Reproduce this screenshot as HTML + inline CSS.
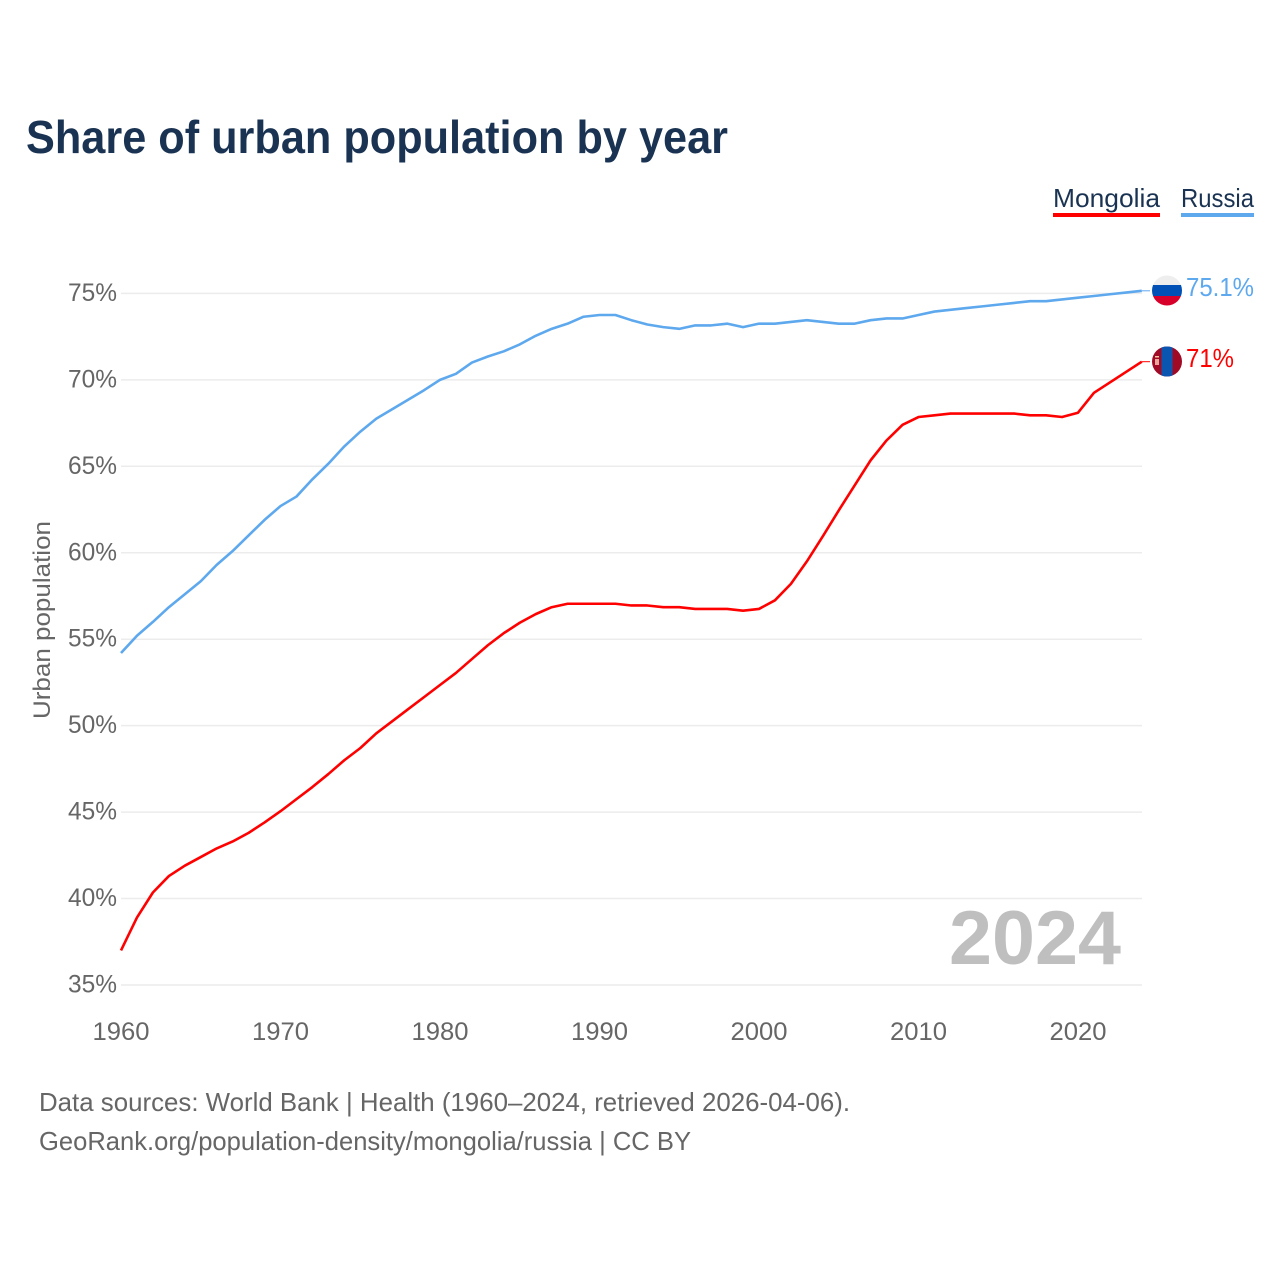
<!DOCTYPE html>
<html lang="en">
<head>
<meta charset="utf-8">
<title>Share of urban population by year</title>
<style>
html,body{margin:0;padding:0;background:#fff}
svg{display:block}
text{font-family:"Liberation Sans",sans-serif}
</style>
</head>
<body>
<svg id="chart" xmlns="http://www.w3.org/2000/svg" width="1280" height="1280" viewBox="0 0 1280 1280">
<rect width="1280" height="1280" fill="#fff"/>
<text x="26" y="153" font-size="46" font-weight="700" fill="#1a3352" textLength="702" lengthAdjust="spacingAndGlyphs">Share of urban population by year</text>
<text x="1053" y="207" font-size="26" fill="#1a3352" textLength="107" lengthAdjust="spacingAndGlyphs">Mongolia</text>
<rect x="1053" y="213" width="107" height="4" fill="#ff0000"/>
<text x="1181" y="207" font-size="26" fill="#1a3352" textLength="73" lengthAdjust="spacingAndGlyphs">Russia</text>
<rect x="1181" y="213" width="73" height="4" fill="#5ea8ee"/>
<g id="grid"></g>
<g id="yticks"></g>
<g id="xticks"></g>
<text transform="translate(50,620) rotate(-90)" text-anchor="middle" font-size="24" fill="#666" textLength="198" lengthAdjust="spacingAndGlyphs">Urban population</text>
<text x="949" y="964" font-size="76" font-weight="700" fill="#bfbfbf" textLength="172" lengthAdjust="spacingAndGlyphs">2024</text>
<g id="series"></g>
<defs>
<clipPath id="clip-ru"><circle cx="1167" cy="290.5" r="15"/></clipPath>
<clipPath id="clip-mn"><circle cx="1167" cy="361.5" r="15"/></clipPath>
</defs>
<g clip-path="url(#clip-ru)">
<rect x="1152" y="275" width="30" height="11" fill="#eeeeee"/>
<rect x="1152" y="285" width="30" height="11" fill="#0050b5"/>
<rect x="1152" y="296" width="30" height="11" fill="#d6002a"/>
</g>
<g clip-path="url(#clip-mn)">
<rect x="1152" y="346" width="30" height="31" fill="#a10a25"/>
<rect x="1161.5" y="346" width="11" height="31" fill="#0a55b0"/>
<rect x="1155" y="356" width="4" height="1.5" fill="#f2c9a0"/>
<rect x="1155" y="359" width="4" height="6" fill="#e8a79a"/>
</g>
<text x="1186" y="296" font-size="26" fill="#5ea8ee" textLength="68" lengthAdjust="spacingAndGlyphs">75.1%</text>
<text x="1186" y="367" font-size="26" fill="#ff0000" textLength="48" lengthAdjust="spacingAndGlyphs">71%</text>
<text x="39" y="1111" font-size="26" fill="#666" textLength="811" lengthAdjust="spacingAndGlyphs">Data sources: World Bank | Health (1960–2024, retrieved 2026-04-06).</text>
<text x="39" y="1150" font-size="26" fill="#666" textLength="652" lengthAdjust="spacingAndGlyphs">GeoRank.org/population-density/mongolia/russia | CC BY</text>
</svg>
<script>
const years = [1960,1961,1962,1963,1964,1965,1966,1967,1968,1969,1970,1971,1972,1973,1974,1975,1976,1977,1978,1979,1980,1981,1982,1983,1984,1985,1986,1987,1988,1989,1990,1991,1992,1993,1994,1995,1996,1997,1998,1999,2000,2001,2002,2003,2004,2005,2006,2007,2008,2009,2010,2011,2012,2013,2014,2015,2016,2017,2018,2019,2020,2021,2022,2023,2024];
const russiaValues = [54.2,55.2,56,56.85,57.6,58.35,59.3,60.1,61,61.9,62.7,63.25,64.25,65.15,66.15,67,67.75,68.3,68.85,69.4,70,70.35,71,71.35,71.65,72.05,72.55,72.95,73.25,73.65,73.75,73.75,73.45,73.2,73.05,72.95,73.15,73.15,73.25,73.05,73.25,73.25,73.35,73.45,73.35,73.25,73.25,73.45,73.55,73.55,73.75,73.95,74.05,74.15,74.25,74.35,74.45,74.55,74.55,74.65,74.75,74.85,74.95,75.05,75.15];
const mongoliaValues = [37,38.9,40.35,41.3,41.9,42.4,42.9,43.3,43.8,44.4,45.05,45.75,46.45,47.2,48,48.7,49.55,50.25,50.95,51.65,52.35,53.05,53.85,54.65,55.35,55.95,56.45,56.85,57.05,57.05,57.05,57.05,56.95,56.95,56.85,56.85,56.75,56.75,56.75,56.65,56.75,57.25,58.2,59.5,60.95,62.45,63.9,65.35,66.5,67.4,67.85,67.95,68.05,68.05,68.05,68.05,68.05,67.95,67.95,67.85,68.1,69.25,69.85,70.45,71.05];
const yTickValues = [35,40,45,50,55,60,65,70,75];
const xTickValues = [1960,1970,1980,1990,2000,2010,2020];

const NS = 'http://www.w3.org/2000/svg';
function xScale(year){ return 121 + (year - 1960) * 15.95; }
function yScale(v){ return 985 - (v - 35) * 17.29; }
function make(tag, attrs, parent){
  const el = document.createElementNS(NS, tag);
  for (const k in attrs) el.setAttribute(k, attrs[k]);
  parent.appendChild(el);
  return el;
}
const grid = document.getElementById('grid');
const yticks = document.getElementById('yticks');
const xticks = document.getElementById('xticks');
const series = document.getElementById('series');

yTickValues.forEach(function(v){
  const line = make('line', {x1:121, x2:1142, y1:yScale(v), y2:yScale(v), stroke:'#ececec', 'stroke-width':1.5}, grid);
  
  
  const t = make('text', {x:117, y:yScale(v)+7.5, 'text-anchor':'end', 'font-size':25, fill:'#666', textLength:49, lengthAdjust:'spacingAndGlyphs'}, yticks);
  
  
  t.textContent = v + '%';
});
xTickValues.forEach(function(y){
  const t = make('text', {x:xScale(y), y:1040, 'text-anchor':'middle', 'font-size':25, fill:'#666', textLength:57, lengthAdjust:'spacingAndGlyphs'}, xticks);
  
  
  t.textContent = y;
});
function pathFor(values){
  return values.map(function(v,i){ return (i ? 'L' : 'M') + xScale(years[i]).toFixed(2) + ' ' + yScale(v).toFixed(2); }).join(' ');
}
function leader(values, color, parent){
  const last = values[values.length - 1];
  const l = make('line', {x1:xScale(years[years.length - 1]), x2:1150, y1:yScale(last), y2:yScale(last), stroke:color, 'stroke-width':1}, parent);
  return l;
}
const russiaLine = make('path', {d:pathFor(russiaValues), fill:'none', stroke:'#5ea8ee', 'stroke-width':2.6, 'stroke-linejoin':'round'}, series);


const mongoliaLine = make('path', {d:pathFor(mongoliaValues), fill:'none', stroke:'#ff0000', 'stroke-width':2.6, 'stroke-linejoin':'round'}, series);


const russiaLeader = leader(russiaValues, '#5ea8ee', series);


const mongoliaLeader = leader(mongoliaValues, '#ff0000', series);


</script>
</body>
</html>
